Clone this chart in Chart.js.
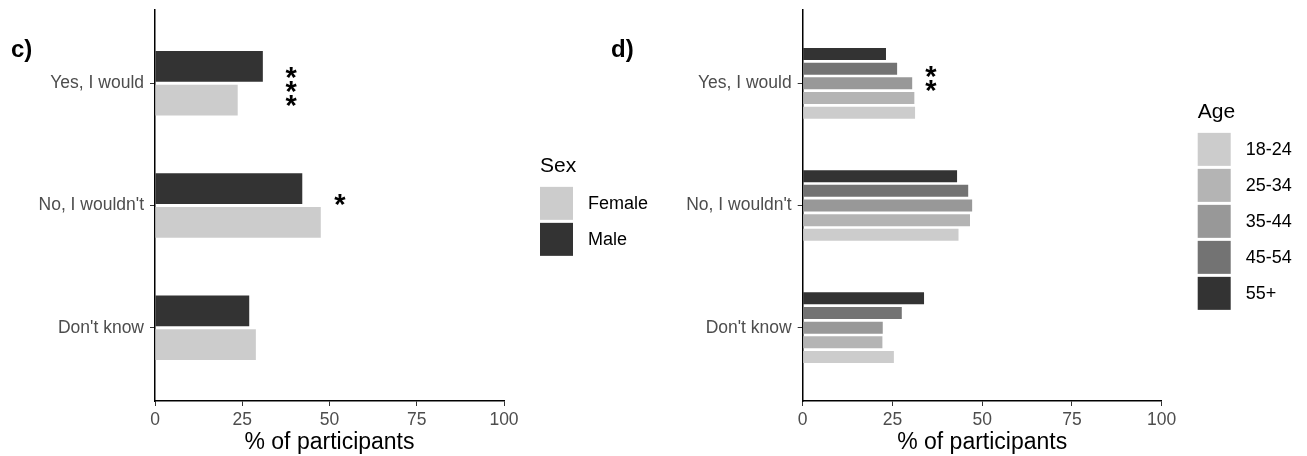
<!DOCTYPE html>
<html>
<head>
<meta charset="utf-8">
<script src="https://cdn.jsdelivr.net/npm/chart.js@4.4.1/dist/chart.umd.min.js"></script>
<style>
  html, body { margin: 0; padding: 0; background: #fff; }
  #wrap { position: relative; width: 1307px; height: 456px; overflow: hidden; }
  canvas { position: absolute; top: 0; }
  #sexChart { left: 0; }
  #ageChart { left: 600px; }
</style>
</head>
<body>
<div id="wrap">
  <canvas id="sexChart" width="655" height="456"></canvas>
  <canvas id="ageChart" width="707" height="456"></canvas>
</div>
<script>
const responses = ["Yes, I would", "No, I wouldn't", "Don't know"];
const xTicks = [0, 25, 50, 75, 100];

// panel c) - by sex (top bar first)
const sexGroups = ["Male", "Female"];
const sexColors = ["#333333", "#cccccc"];
const maleValues = [30.9, 42.2, 27.0];
const femaleValues = [23.7, 47.5, 28.9];

// panel d) - by age, 55+ on top
const ageGroups = ["55+", "45-54", "35-44", "25-34", "18-24"];
const ageColors = ["#333333", "#737373", "#989898", "#b4b4b4", "#cccccc"];
const age55 = [23.2, 43.0, 33.8];
const age45 = [26.3, 46.1, 27.6];
const age35 = [30.5, 47.2, 22.3];
const age25 = [31.1, 46.6, 22.2];
const age18 = [31.3, 43.4, 25.4];

// significance stars: pos = response index (1-based) + shift, x in %
const sexStars = [{ pos: 1.01, x: 39, n: 3 }, { pos: 1.93, x: 53, n: 1 }];
const ageStars = [{ pos: 0.94, x: 35.7, n: 2 }];

const FONT = '"Liberation Sans", Arial, Helvetica, sans-serif';

// panel letter, stars and ggplot-like legend
const extras = {
  id: 'extras',
  afterDraw(chart, args, opts) {
    const { ctx, chartArea, scales } = chart;
    ctx.save();
    ctx.fillStyle = '#000';
    ctx.textAlign = 'left';
    ctx.textBaseline = 'alphabetic';
    ctx.font = 'bold 24px ' + FONT;
    ctx.fillText(opts.letter, 11, 57);

    const size = 29;
    ctx.font = 'bold ' + size + 'px ' + FONT;
    ctx.textAlign = 'center';
    opts.stars.forEach(s => {
      const x = scales.x.getPixelForValue(s.x);
      const cy = scales.y.getPixelForValue(s.pos);
      for (let k = 0; k < s.n; k++) {
        const y = cy + (k - (s.n - 1) / 2) * 14;
        ctx.fillText('*', x, y + size * 0.575);
      }
    });

    const sets = chart.data.datasets.slice().reverse();
    const itemsH = sets.length * 36 - 3;
    const top = (chartArea.top + chartArea.bottom) / 2 + 1.5 - (28.7 + itemsH) / 2;
    const lx = chartArea.right + 36;
    ctx.textAlign = 'left';
    ctx.font = '21px ' + FONT;
    ctx.fillText(opts.legendTitle, lx, top + 13.4);
    ctx.font = '18px ' + FONT;
    ctx.textBaseline = 'middle';
    sets.forEach((ds, i) => {
      const by = top + 28.7 + i * 36;
      ctx.fillStyle = ds.backgroundColor;
      ctx.fillRect(lx, by, 33, 33);
      ctx.fillStyle = '#000';
      ctx.fillText(ds.label, lx + 48, by + 17);
    });
    ctx.restore();
  }
};

function makeChart(id, sets, groups, colors, opts) {
  return new Chart(document.getElementById(id), {
    type: 'bar',
    data: {
      labels: responses.map((_, i) => i + 1),
      datasets: sets.map((d, i) => ({
        label: groups[i],
        data: d,
        backgroundColor: colors[i],
        borderWidth: 0,
        categoryPercentage: opts.catPct,
        barPercentage: opts.barPct
      }))
    },
    options: {
      indexAxis: 'y',
      responsive: false,
      animation: false,
      layout: { padding: { top: 10, right: opts.padRight, bottom: 0, left: 0 } },
      plugins: {
        legend: { display: false },
        tooltip: { enabled: false },
        extras: { letter: opts.letter, stars: opts.stars, legendTitle: opts.legendTitle }
      },
      scales: {
        x: {
          type: 'linear',
          min: 0,
          max: 100,
          afterBuildTicks: s => { s.ticks = xTicks.map(v => ({ value: v })); },
          afterFit: s => { s.height = 55; s.paddingLeft = 0; s.paddingRight = 0; },
          grid: { drawOnChartArea: false, drawTicks: true, tickLength: 5, color: '#333' },
          border: { display: true, color: '#000', width: 1.5 },
          ticks: { color: '#4d4d4d', padding: 4, font: { family: FONT, size: 17.5 } },
          title: { display: true, text: '% of participants', color: '#000',
                   font: { family: FONT, size: 23 }, padding: { top: 0, bottom: 0 } }
        },
        y: {
          type: 'linear',
          min: 0.4,
          max: 3.6,
          reverse: true,
          offset: false,
          afterBuildTicks: s => { s.ticks = responses.map((_, i) => ({ value: i + 1 })); },
          afterFit: s => { s.width = opts.yWidth; s.paddingTop = 0; s.paddingBottom = 0; },
          grid: { drawOnChartArea: false, drawTicks: true, tickLength: 5, color: '#333', offset: false },
          border: { display: true, color: '#000', width: 1.5 },
          ticks: { color: '#4d4d4d', padding: 6, font: { family: FONT, size: 17.5 },
                   callback: v => responses[v - 1] }
        }
      }
    },
    plugins: [extras]
  });
}

makeChart('sexChart', [maleValues, femaleValues], sexGroups, sexColors, {
  catPct: 0.553, barPct: 0.91, padRight: 151, yWidth: 155,
  letter: 'c)', stars: sexStars, legendTitle: 'Sex'
});

makeChart('ageChart', [age55, age45, age35, age25, age18], ageGroups, ageColors, {
  catPct: 0.6, barPct: 0.82, padRight: 145.3, yWidth: 202.7,
  letter: 'd)', stars: ageStars, legendTitle: 'Age'
});
</script>
</body>
</html>
